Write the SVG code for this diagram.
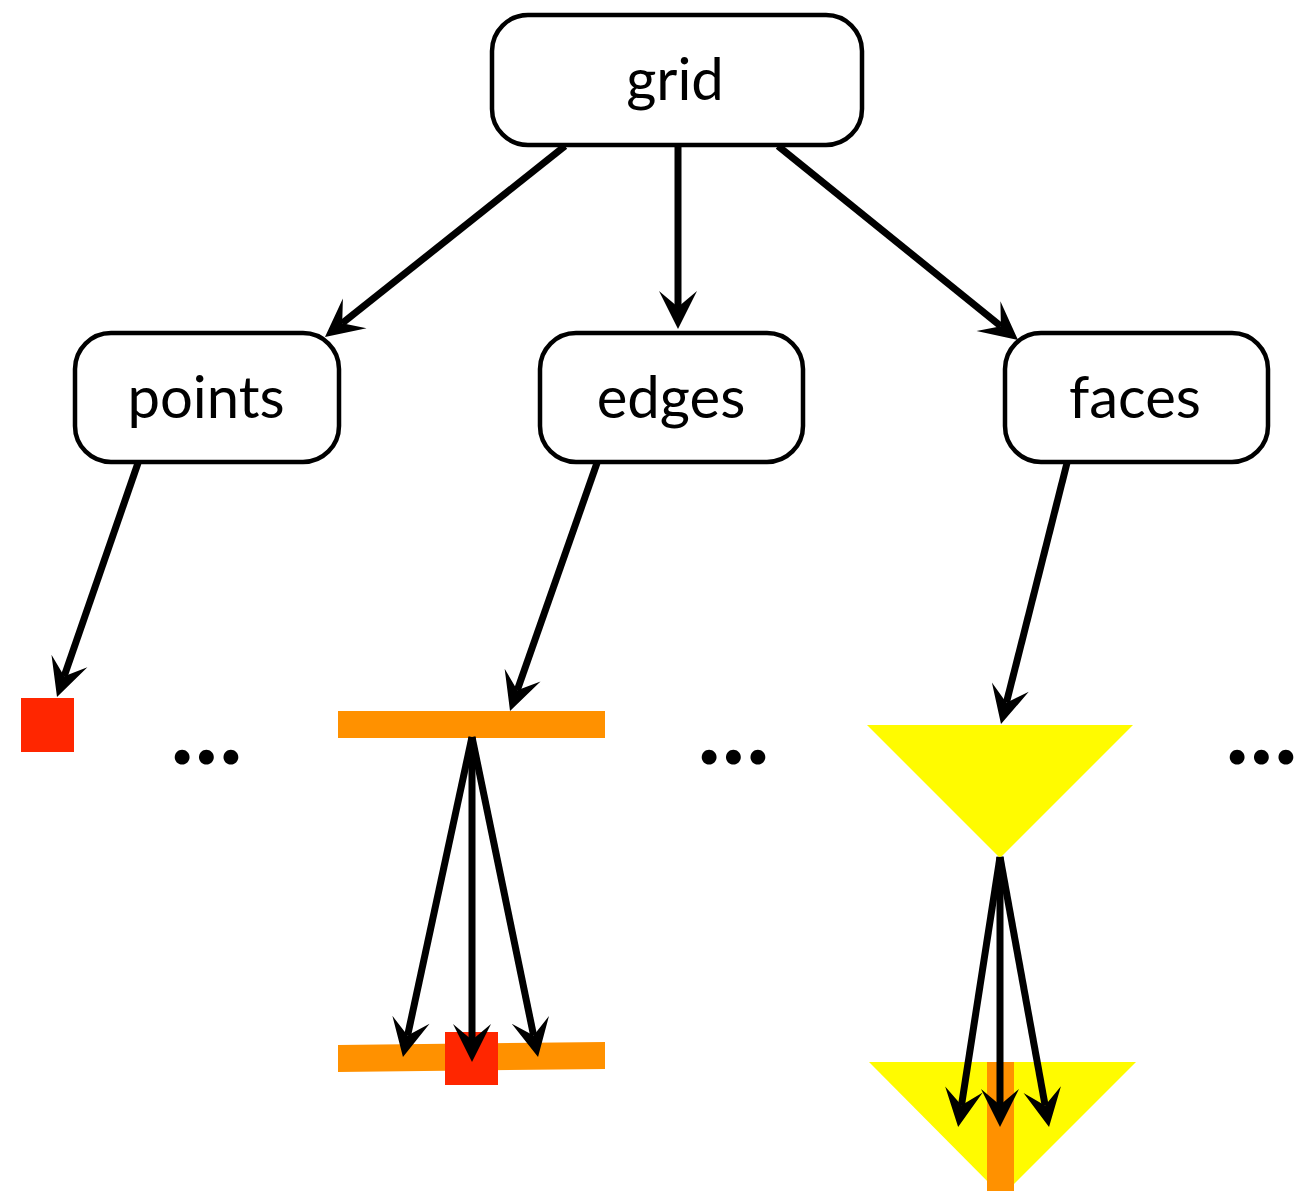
<svg xmlns="http://www.w3.org/2000/svg" width="1306" height="1191" viewBox="0 0 1306 1191">
<style>
.box{fill:#fff;stroke:#000;stroke-width:4.5}
.lbl{font-family:Lato,"Liberation Sans",sans-serif;font-size:58px;fill:#000;text-anchor:middle}
.dots{font-family:Lato,"Liberation Sans",sans-serif;font-weight:bold;font-size:98px;letter-spacing:1px;fill:#000;text-anchor:middle}
.edge{stroke:#000;stroke-width:7;fill:none;marker-end:url(#ah)}
.orange{fill:#ff9100}
.red{fill:#ff2600}
.yellow{fill:#fffb00}
</style>
<defs>
<marker id="ah" markerUnits="userSpaceOnUse" viewBox="-2 -24 46 48" refX="16" refY="0" markerWidth="46" markerHeight="48" orient="auto">
<path d="M0,-19 L38,0 L0,19 L16,0 Z" fill="#000"/>
</marker>
</defs>
<g id="shapes">
<rect id="point1" class="red" x="21" y="698" width="53" height="54"/>
<rect id="edge1" class="orange" x="338" y="711" width="267" height="27"/>
<polygon id="edge2" class="orange" points="338,1045 605,1042 605,1069 338,1072"/>
<rect id="point2" class="red" x="445" y="1032" width="53" height="53"/>
<polygon id="face1" class="yellow" points="867,725 1133,725 1000,858"/>
<polygon id="face2" class="yellow" points="869,1062 1136,1062 1002,1196"/>
<rect id="edge3" class="orange" x="987" y="1062" width="27" height="129"/>
</g>
<g id="grid"><rect class="box" x="492" y="15" width="370" height="130" rx="36"/><text class="lbl" x="675" y="100">grid</text></g>
<g id="points"><rect class="box" x="75" y="333" width="264" height="129" rx="36"/><text class="lbl" x="206" y="418">points</text></g>
<g id="edges"><rect class="box" x="540" y="333" width="263" height="129" rx="36"/><text class="lbl" x="671" y="418">edges</text></g>
<g id="faces"><rect class="box" x="1005" y="333" width="263" height="129" rx="36"/><text class="lbl" x="1135" y="418">faces</text></g>
<g id="ellipses">
<text class="dots" x="207" y="764">...</text>
<text class="dots" x="734" y="764">...</text>
<text class="dots" x="1262" y="764">...</text>
</g>
<g id="connectors">
<line class="edge" x1="565" y1="146" x2="342.2" y2="323.3"/>
<line class="edge" x1="678" y1="146" x2="678" y2="307"/>
<line class="edge" x1="778" y1="146" x2="1000.9" y2="326.2"/>
<line class="edge" x1="138" y1="463" x2="64.2" y2="676.2"/>
<line class="edge" x1="597" y1="463" x2="517.3" y2="690.2"/>
<line class="edge" x1="1067" y1="463" x2="1006.4" y2="702.7"/>
<line class="edge" x1="472" y1="737" x2="407.6" y2="1035.5"/>
<line class="edge" x1="472" y1="737" x2="472" y2="1040"/>
<line class="edge" x1="472" y1="737" x2="533.6" y2="1035.5"/>
<line class="edge" x1="1000" y1="857" x2="961.5" y2="1105.3"/>
<line class="edge" x1="1000" y1="857" x2="1000" y2="1105"/>
<line class="edge" x1="1000" y1="857" x2="1045.1" y2="1105.4"/>
</g>
</svg>
